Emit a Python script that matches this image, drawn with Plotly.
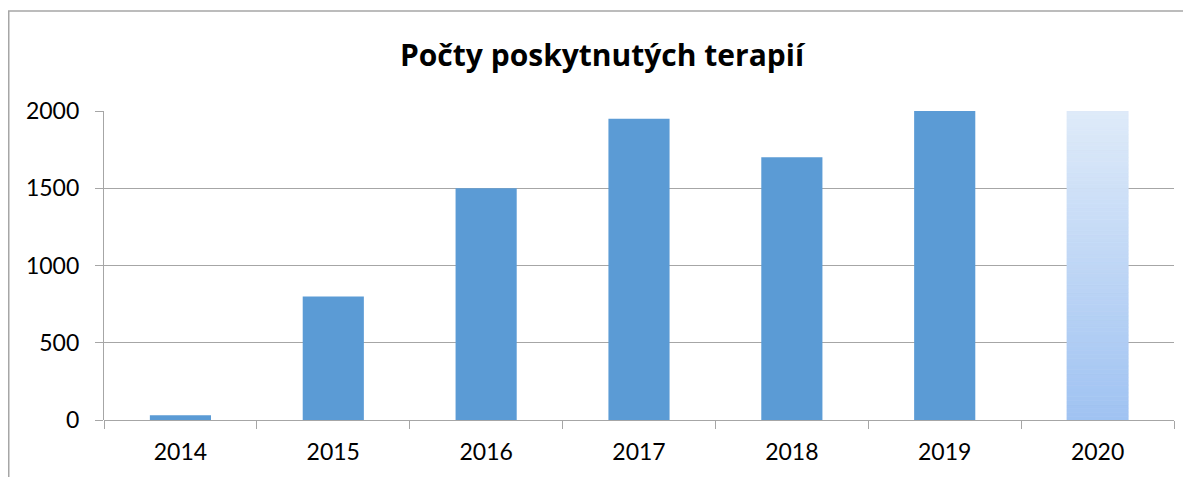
import plotly.graph_objects as go

years = ["2014", "2015", "2016", "2017", "2018", "2019", "2020"]
therapies = [30, 800, 1500, 1950, 1700, 2000, 2000]
y_ticks = [0, 500, 1000, 1500, 2000]

solid_color = "#5B9BD5"
grad_bottom = (160, 195, 242)
grad_top = (222, 234, 249)
n_seg = 80

fig = go.Figure()

fig.add_trace(go.Bar(
    x=years[:-1], y=therapies[:-1],
    marker=dict(color=solid_color, line=dict(width=0)),
    width=0.4, hoverinfo="x+y",
))

# last year drawn as a vertical gradient built from stacked slices of its value
last_val = therapies[-1]
seg = last_val / n_seg
cols = []
for i in range(n_seg):
    t = i / (n_seg - 1)
    c = tuple(round(grad_bottom[k] + (grad_top[k] - grad_bottom[k]) * t) for k in range(3))
    cols.append("rgb(%d,%d,%d)" % c)
fig.add_trace(go.Bar(
    x=[years[-1]] * n_seg, y=[seg] * n_seg, base=[seg * i for i in range(n_seg)],
    marker=dict(color=cols, line=dict(width=0.8, color=cols)),
    width=0.4, hoverinfo="skip",
))

# page body has an 8px offset
OFF = 8
W, H = 1191 - OFF, 477 - OFF
L, R, T, B = 104 - OFF, 17, 111 - OFF, 57
pw = W - L - R
ph = H - T - B

def px_x(x):
    return (x - L) / pw

def px_y(y):
    return (H - B - y) / ph

fig.update_layout(
    width=W, height=H,
    margin=dict(l=L, r=R, t=T, b=B),
    paper_bgcolor="white", plot_bgcolor="white",
    barmode="overlay",
    showlegend=False,
    font=dict(family="Lato, 'Open Sans', sans-serif", color="#000000", size=23),
    title=dict(
        text="<b>Počty poskytnutých terapií</b>",
        x=(602 - OFF) / W, xanchor="center", xref="container",
        y=1 - (55 - OFF) / H, yanchor="middle", yref="container",
        font=dict(size=30, family="'Open Sans', sans-serif", color="#000000"),
    ),
    xaxis=dict(
        type="category", categoryorder="array", categoryarray=years,
        showgrid=False, showline=False, zeroline=False,
        ticks="outside", ticklen=8, tickcolor="#A6A6A6", tickwidth=1.3,
        tickson="boundaries", ticklabelstandoff=16,
        tickfont=dict(size=23), range=[-0.5, 6.5],
    ),
    yaxis=dict(
        range=[0, 2000], tickvals=y_ticks,
        showgrid=True, gridcolor="#A6A6A6", gridwidth=1.3,
        showline=True, linecolor="#A6A6A6", linewidth=1.3,
        zeroline=True, zerolinecolor="#A6A6A6", zerolinewidth=1.3,
        ticks="outside", ticklen=8, tickcolor="#A6A6A6", tickwidth=1.3,
        ticklabelstandoff=11, tickfont=dict(size=23),
    ),
    shapes=[
        dict(type="line", xref="paper", yref="paper",
             x0=px_x(0.75), x1=px_x(0.75), y0=px_y(3), y1=px_y(H + 5),
             line=dict(color="#A6A6A6", width=1.5)),
        dict(type="line", xref="paper", yref="paper",
             x0=px_x(0), x1=px_x(W + 5), y0=px_y(3), y1=px_y(3),
             line=dict(color="#A6A6A6", width=1.5)),
    ],
)

fig.write_html("out.html")
